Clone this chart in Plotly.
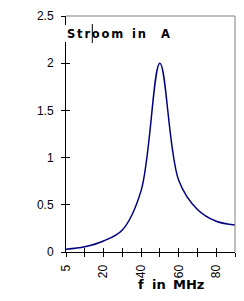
import plotly.graph_objects as go

# Data
freq_labels = ["5", "10", "20", "30", "40", "50", "60", "70", "80", "90"]
stroom = [0.03, 0.056, 0.117, 0.233, 0.65, 2.0, 0.76, 0.45, 0.325, 0.285]
x_tick_text = ["5", "", "20", "", "40", "", "60", "", "80", ""]
y_ticks = [0, 0.5, 1, 1.5, 2, 2.5]
title_words = ["Stroom", "in", "A"]
xtitle_words = ["f", "in", "MHz"]

W, H = 244, 301
L, R, T, B = 66, 9, 16, 49
pw = W - L - R
ph = H - T - B


def px(x):
    return (x - L) / pw


def py(y):
    return (H - B - y) / ph


fig = go.Figure()
fig.add_trace(go.Scatter(
    x=freq_labels, y=stroom, mode="lines",
    line=dict(color="#000080", width=1.5, shape="spline", smoothing=1),
    hoverinfo="skip", showlegend=False))
fig.add_trace(go.Scatter(
    x=freq_labels, y=stroom, mode="lines", xaxis="x2", yaxis="y2",
    line=dict(color="rgba(0,0,0,0)", width=0),
    hoverinfo="skip", showlegend=False))

tickfont = dict(family="Liberation Sans, Arial", size=12, color="black")
common_x = dict(type="category", categoryorder="array", categoryarray=freq_labels,
                range=[0, len(freq_labels) - 1], tickmode="array", tickvals=freq_labels,
                ticklen=4, tickwidth=1, tickcolor="black", showgrid=False, zeroline=False)
common_y = dict(range=[0, 2.5], tickmode="array", tickvals=y_ticks,
                ticklen=4, tickwidth=1, tickcolor="black", showgrid=False, zeroline=False)

fig.update_layout(
    width=W, height=H,
    margin=dict(l=L, r=R, t=T, b=B, pad=0),
    paper_bgcolor="white", plot_bgcolor="white",
    xaxis=dict(**common_x, ticktext=x_tick_text, ticks="outside", showline=True,
               linecolor="black", linewidth=1, tickangle=-90, tickfont=tickfont,
               ticklabelstandoff=3),
    xaxis2=dict(**common_x, overlaying="x", anchor="y2", side="bottom", ticks="inside",
                showticklabels=False, showline=False),
    yaxis=dict(**common_y, ticks="outside", showline=True, linecolor="black", linewidth=1,
               tickfont=tickfont, ticklabelstandoff=5),
    yaxis2=dict(**common_y, overlaying="y", anchor="x2", side="left", ticks="inside",
                showticklabels=False, showline=False),
    shapes=[
        dict(type="line", xref="paper", yref="paper", x0=0, x1=1, y0=1, y1=1,
             line=dict(color="#808080", width=1)),
        dict(type="line", xref="paper", yref="paper", x0=1, x1=1, y0=0, y1=1,
             line=dict(color="#808080", width=1)),
        dict(type="rect", xref="paper", yref="paper", x0=px(63), x1=px(70),
             y0=py(42), y1=py(25), fillcolor="white", line=dict(width=0), layer="above"),
        dict(type="line", xref="paper", yref="paper", x0=px(92.3), x1=px(92.3),
             y0=py(43), y1=py(24), line=dict(color="black", width=1), layer="above"),
    ],
)

tfont = dict(family="DejaVu Sans", size=11.5, color="black")
for word, xpos in zip(title_words, [66, 131, 160]):
    fig.add_annotation(text="<b><span style='letter-spacing:1.8px'>%s</span></b>" % word,
                       x=px(xpos), y=py(33.5), xref="paper",
                       yref="paper", xanchor="left", yanchor="middle", showarrow=False,
                       font=tfont, borderpad=0)
xfont = dict(family="DejaVu Sans", size=13, color="black")
for word, xpos in zip(xtitle_words, [137, 151, 172]):
    fig.add_annotation(text="<b>%s</b>" % word, x=px(xpos), y=py(284.5), xref="paper",
                       yref="paper", xanchor="left", yanchor="middle", showarrow=False,
                       font=xfont, borderpad=0)

fig.write_html("out.html")
